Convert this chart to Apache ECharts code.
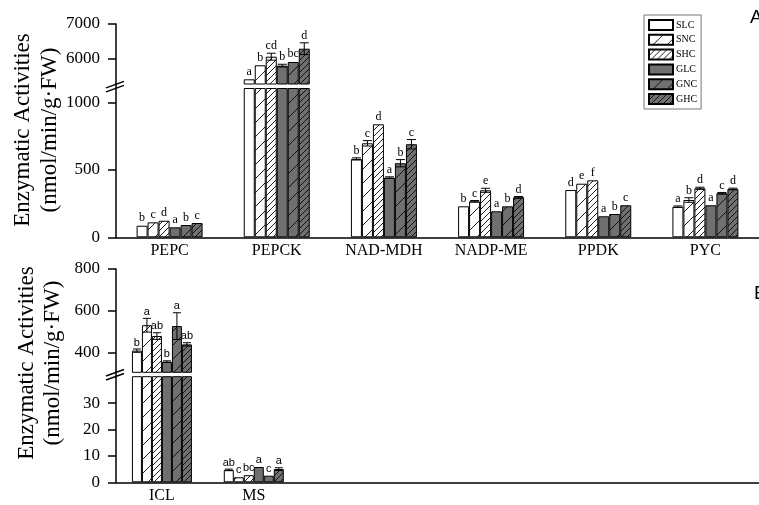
<!DOCTYPE html>
<html>
<head>
<meta charset="utf-8">
<script src="https://cdn.jsdelivr.net/npm/echarts@6/dist/echarts.min.js"></script>
<style>
  html, body { margin: 0; padding: 0; background: #fff; }
  #chart { width: 759px; height: 505px; }
</style>
</head>
<body>
<div id="chart"></div>
<script>
// ---- data ----------------------------------------------------------------
const treatments = ['SLC', 'SNC', 'SHC', 'GLC', 'GNC', 'GHC'];

// Panel A
const topCategories = ['PEPC', 'PEPCK', 'NAD-MDH', 'NADP-ME', 'PPDK', 'PYC'];
const topValues = [
  [86, 5406, 582, 230, 351, 227],   // SLC
  [111, 5810, 698, 267, 398, 277],  // SNC
  [123, 6058, 839, 349, 423, 364],  // SHC
  [74, 5800, 443, 193, 156, 238],   // GLC
  [91, 5905, 550, 230, 173, 327],   // GNC
  [106, 6288, 691, 297, 238, 359]   // GHC
];
const topErrors = [
  [4, 20, 8, 4, 4, 6],
  [4, 20, 20, 6, 4, 17],
  [4, 100, 4, 15, 4, 8],
  [4, 40, 6, 4, 4, 4],
  [4, 20, 27, 4, 4, 6],
  [4, 170, 35, 6, 4, 6]
];
const topLetters = [
  ['b', 'a', 'b', 'b', 'd', 'a'],
  ['c', 'b', 'c', 'c', 'e', 'b'],
  ['d', 'cd', 'd', 'e', 'f', 'd'],
  ['a', 'b', 'a', 'a', 'a', 'a'],
  ['b', 'bc', 'b', 'b', 'b', 'c'],
  ['c', 'd', 'c', 'd', 'c', 'd']
];
const topTicksLow = [0, 500, 1000];
const topTicksHigh = [6000, 7000];

// Panel B
const bottomCategories = ['ICL', 'MS'];
const bottomValues = [
  [408, 4.7],
  [530, 1.9],
  [478, 2.7],
  [355, 5.8],
  [526, 2.5],
  [438, 5.0]
];
const bottomErrors = [
  [8, 0.3],
  [33, 0.2],
  [16, 0.2],
  [4, 0.2],
  [64, 0.2],
  [8, 0.5]
];
const bottomLetters = [
  ['b', 'ab'],
  ['a', 'c'],
  ['ab', 'bc'],
  ['b', 'a'],
  ['a', 'c'],
  ['ab', 'a']
];
const bottomTicksLow = [0, 10, 20, 30];
const bottomTicksHigh = [400, 600, 800];

// ---- styling helpers -------------------------------------------------------
const SERIF = '"Liberation Serif","Times New Roman",serif';
const SANS = '"Liberation Sans",Arial,sans-serif';
const GREY = '#707070';

function hatch(bg, s, lineColor) {
  const c = document.createElement('canvas');
  c.width = s; c.height = s;
  const g = c.getContext('2d');
  g.fillStyle = bg;
  g.fillRect(0, 0, s, s);
  g.strokeStyle = lineColor;
  g.lineWidth = 1;
  g.beginPath();
  for (const o of [-s, 0, s]) { g.moveTo(o, s); g.lineTo(o + s, 0); }
  g.stroke();
  return { image: c, repeat: 'repeat' };
}

const fills = [
  '#ffffff',
  hatch('#ffffff', 14, '#222'),
  hatch('#ffffff', 6, '#222'),
  GREY,
  hatch(GREY, 14, '#111'),
  hatch(GREY, 6, '#111')
];

const axisLineStyle = { color: '#000', width: 1.5 };

const grids = [], xAxes = [], yAxes = [], series = [];

// One panel = an upper grid (above the axis break) and a lower grid.
function buildPanel(p) {
  const slots = p.categories.slice();
  while (slots.length < p.slotCount) slots.push('');
  const hiIdx = grids.length, loIdx = hiIdx + 1;

  grids.push({ left: p.left, width: p.width, top: p.hi.top, height: p.hi.height });
  grids.push({ left: p.left, width: p.width, top: p.lo.top, height: p.lo.height });

  xAxes.push({ type: 'category', gridIndex: hiIdx, data: slots, show: false });
  xAxes.push({
    type: 'category', gridIndex: loIdx, data: slots,
    axisLine: { lineStyle: axisLineStyle },
    axisTick: { show: false },
    axisLabel: { interval: 0, margin: 5, fontFamily: SERIF, fontSize: 16, color: '#000' }
  });

  [['hi', hiIdx], ['lo', loIdx]].forEach(([key, gi]) => {
    const seg = p[key];
    yAxes.push({
      type: 'value', gridIndex: gi, min: seg.min, max: seg.max,
      splitLine: { show: false },
      axisLine: { show: true, lineStyle: axisLineStyle },
      axisTick: { show: true, length: 8, customValues: seg.ticks, lineStyle: axisLineStyle },
      axisLabel: {
        customValues: seg.ticks, margin: 16, formatter: v => String(v),
        fontFamily: SERIF, fontSize: 17, color: '#000'
      }
    });
  });

  treatments.forEach((name, k) => {
    const style = { color: fills[k], borderColor: '#000', borderWidth: 1 };
    series.push({
      type: 'bar', name, xAxisIndex: hiIdx, yAxisIndex: hiIdx,
      data: p.values[k].map(v => (v > p.hi.min ? v : '-')),
      barWidth: p.barWidth, barGap: '0%', clip: true,
      itemStyle: style, emphasis: { disabled: true }, animation: false
    });
    series.push({
      type: 'bar', name, xAxisIndex: loIdx, yAxisIndex: loIdx,
      data: p.values[k].slice(),
      barWidth: p.barWidth, barGap: '0%', clip: true,
      itemStyle: style, emphasis: { disabled: true }, animation: false
    });
  });

  // error bars + significance letters
  const items = [];
  p.values.forEach((row, k) => row.forEach((v, i) => items.push([i, k, v, p.errors[k][i]])));
  const letterOf = (k, i) => p.letters[k][i];

  [['hi', hiIdx], ['lo', loIdx]].forEach(([key, gi]) => {
    series.push({
      type: 'custom', xAxisIndex: gi, yAxisIndex: gi, z: 5, animation: false,
      data: items,
      renderItem(params, api) {
        const i = api.value(0), k = api.value(1), v = api.value(2), e = api.value(3);
        const inHigh = v > p.hi.min;
        if ((key === 'hi') !== inHigh) return null;
        if (key === 'lo' && v + e > p.lo.max) return null;
        const c = api.coord([i, v]);
        const x = c[0] + (k - 2.5) * p.barWidth;
        const yTop = api.coord([i, v + e])[1];
        const yBot = api.coord([i, Math.max(v - e, 0)])[1];
        const cap = p.barWidth / 2 - 1;
        const ls = { stroke: '#000', lineWidth: 1 };
        const children = [];
        if (yBot - yTop > 1.5) {
          children.push({ type: 'line', shape: { x1: x, y1: yTop, x2: x, y2: yBot }, style: ls });
          children.push({ type: 'line', shape: { x1: x - cap, y1: yTop, x2: x + cap, y2: yTop }, style: ls });
          children.push({ type: 'line', shape: { x1: x - cap, y1: yBot, x2: x + cap, y2: yBot }, style: ls });
        }
        children.push({
          type: 'text', x: x, y: yTop - 1,
          style: {
            text: letterOf(k, i), fill: '#000',
            font: p.letterFont, align: 'center', verticalAlign: 'bottom'
          }
        });
        return { type: 'group', children };
      }
    });
  });
}

buildPanel({
  categories: topCategories, slotCount: 6, left: 116, width: 648, barWidth: 11,
  values: topValues, errors: topErrors, letters: topLetters,
  letterFont: '12px ' + SERIF,
  hi: { top: 24, height: 60, min: 5271, max: 7000, ticks: topTicksHigh },
  lo: { top: 88.5, height: 148.8, min: 0, max: 1105, ticks: topTicksLow }
});

buildPanel({
  categories: bottomCategories, slotCount: 7, left: 116, width: 644, barWidth: 10,
  values: bottomValues, errors: bottomErrors, letters: bottomLetters,
  letterFont: '11px ' + SANS,
  hi: { top: 269, height: 103.3, min: 304, max: 800, ticks: bottomTicksHigh },
  lo: { top: 376.7, height: 105.6, min: 0, max: 40, ticks: bottomTicksLow }
});

// axis-break marks, axis titles and panel letters
function breakMarks(cx, cy) {
  const ls = { stroke: '#000', lineWidth: 1.4 };
  return [
    { type: 'line', shape: { x1: cx, y1: cy - 3, x2: cx, y2: cy + 3 }, style: { stroke: '#000', lineWidth: 1.5 } },
    { type: 'line', shape: { x1: cx - 10, y1: cy + 1.5, x2: cx + 8, y2: cy - 5 }, style: ls },
    { type: 'line', shape: { x1: cx - 10, y1: cy + 5.5, x2: cx + 8, y2: cy - 1 }, style: ls }
  ];
}

function yTitle(x1, x2, cy) {
  const font = '23px ' + SERIF;
  return [
    { type: 'text', x: x1, y: cy, rotation: Math.PI / 2,
      style: { text: 'Enzymatic Activities', font, fill: '#000', align: 'center', verticalAlign: 'middle' } },
    { type: 'text', x: x2, y: cy, rotation: Math.PI / 2,
      style: { text: '(nmol/min/g·FW)', font, fill: '#000', align: 'center', verticalAlign: 'middle' } }
  ];
}

const graphic = [].concat(
  breakMarks(116, 86.3),
  breakMarks(116, 374.5),
  yTitle(23, 50, 130),
  yTitle(27, 53, 363),
  [
    { type: 'text', x: 750, y: 8, style: { text: 'A', font: '19px ' + SANS, fill: '#000' } },
    { type: 'text', x: 754, y: 284, style: { text: 'B', font: '19px ' + SANS, fill: '#000' } }
  ]
);

const chart = echarts.init(document.getElementById('chart'), null, { renderer: 'canvas' });
chart.setOption({
  animation: false,
  backgroundColor: '#fff',
  grid: grids,
  xAxis: xAxes,
  yAxis: yAxes,
  legend: {
    data: treatments,
    orient: 'vertical', left: 644, top: 15,
    itemWidth: 24, itemHeight: 10, itemGap: 2.8,
    padding: [4, 4, 4, 4],
    borderColor: '#777', borderWidth: 1,
    selectedMode: false,
    textStyle: { fontFamily: SERIF, fontSize: 10, lineHeight: 10, color: '#000', padding: [0, 0, 0, -2] },
    icon: 'rect'
  },
  series,
  graphic
});
</script>
</body>
</html>
